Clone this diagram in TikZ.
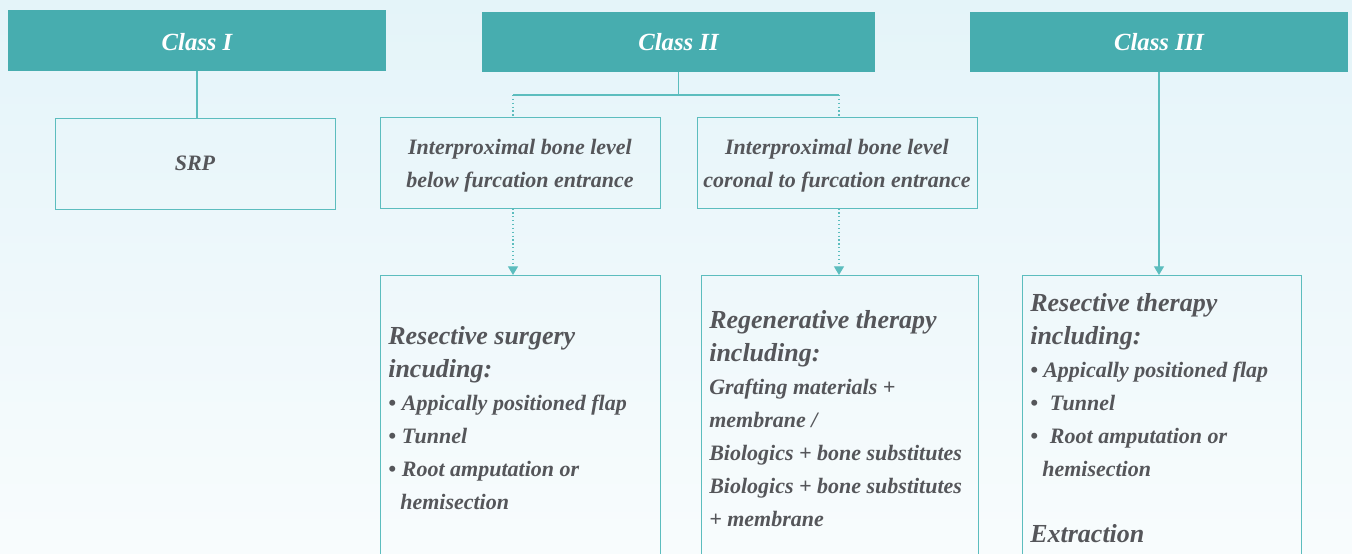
\documentclass[tikz,border=0pt]{standalone}
\usepackage{fontspec}
\setmainfont{Liberation Serif}
\usetikzlibrary{arrows.meta}
\definecolor{teal1}{HTML}{47ADAF}
\definecolor{tealline}{HTML}{5CBDBE}
\definecolor{txt}{HTML}{55565A}
\definecolor{bgtop}{HTML}{E4F4F9}
\definecolor{bgbot}{HTML}{F8FCFD}
\tikzset{
  header/.style={fill=teal1, draw=none, text=white, font=\fontsize{18.5}{22}\selectfont\bfseries\itshape, inner sep=0pt},
  box/.style={draw=tealline, line width=0.75pt, fill=none, inner sep=0pt},
  body/.style={text=txt, font=\fontsize{16.5}{24.75}\selectfont\bfseries\itshape, inner sep=0pt},
  link/.style={draw=tealline, line width=0.9pt},
  dlink/.style={draw=tealline, line width=0.9pt, dotted},
  tip/.style={-{Triangle[width=7.5pt,length=6.5pt]}},
}
\newcommand{\hd}[1]{{\fontsize{19.5}{24.75}\selectfont #1}}
\newcommand{\dn}[2]{\raisebox{-#1}[\height][\depth]{#2}}
\begin{document}
\begin{tikzpicture}[x=0.75pt,y=-0.75pt]
\useasboundingbox (0,0) rectangle (1352,553);
\shade[top color=bgtop, bottom color=bgbot] (0,0) rectangle (1352,553);
\clip (0,0) rectangle (1352,553);
% headers
\node[header, minimum width=283.5pt, minimum height=45.75pt] (c1) at (197,40.5) {\dn{1.5pt}{Class I}};
\node[header, minimum width=294.75pt, minimum height=45pt] (c2) at (678.5,42) {Class II};
\node[header, minimum width=283.5pt, minimum height=45pt] (c3) at (1159,42) {Class III};
% second row
\node[box, body, minimum width=210pt, minimum height=68.25pt] (srp) at (195,163.5) {SRP};
\node[box, body, minimum width=210pt, minimum height=68.25pt, align=center] (ib1) at (520,162.5) {\dn{2.25pt}{Interproximal bone level}\\\dn{2.25pt}{below furcation entrance}};
\node[box, body, minimum width=210pt, minimum height=68.25pt, align=center] (ib2) at (837,162.5) {\dn{2.25pt}{Interproximal bone level}\\\dn{2.25pt}{coronal to furcation entrance}};
% third row
\node[box, anchor=north, minimum width=210pt, minimum height=225pt] (rs) at (520,275) {};
\node[box, anchor=north, minimum width=207.75pt, minimum height=225pt] (rg) at (839.5,275) {};
\node[box, anchor=north, minimum width=209.25pt, minimum height=225pt] (rt) at (1161.5,275) {};
% texts
\node[body, anchor=north west, align=left] (rstext) at (388,326) {%
\hd{Resective surgery}\\
\hd{incuding:}\\
\textbullet\hspace{4.5pt}Appically positioned flap\\
\textbullet\hspace{4.5pt}Tunnel\\
\textbullet\hspace{4.5pt}Root amputation or\\
\hspace{9pt}hemisection};
\node[body, anchor=north west, align=left] (rgtext) at (709,310) {%
\hd{Regenerative therapy}\\
\hd{including:}\\
Grafting materials +\\
membrane /\\
Biologics + bone substitutes\\
Biologics + bone substitutes\\
+ membrane};
\node[body, anchor=north west, align=left] (rttext) at (1030,293) {%
\hd{Resective therapy}\\
\hd{including:}\\
\textbullet\hspace{4pt}Appically positioned flap\\
\textbullet\hspace{9pt}Tunnel\\
\textbullet\hspace{9pt}Root amputation or\\
\hspace{9pt}hemisection\\[24.75pt]
\hd{Extraction}};
% connectors
\draw[link] (c1.south) -- (c1.south |- srp.north);
\coordinate (j) at (c2.south |- 0,95);
\coordinate (jl) at (513,95);
\coordinate (jr) at (839,95);
\draw[link] (c2.south) -- (j);
\draw[link] (jl) -- (jr);
\draw[dlink] (jl) -- (jl |- ib1.north);
\draw[dlink] (jr) -- (jr |- ib2.north);
\draw[dlink, tip] (jl |- ib1.south) -- (jl |- rs.north);
\draw[dlink, tip] (jr |- ib2.south) -- (jr |- rg.north);
\draw[link, tip] (c3.south) -- (c3.south |- rt.north);
\end{tikzpicture}
\end{document}
